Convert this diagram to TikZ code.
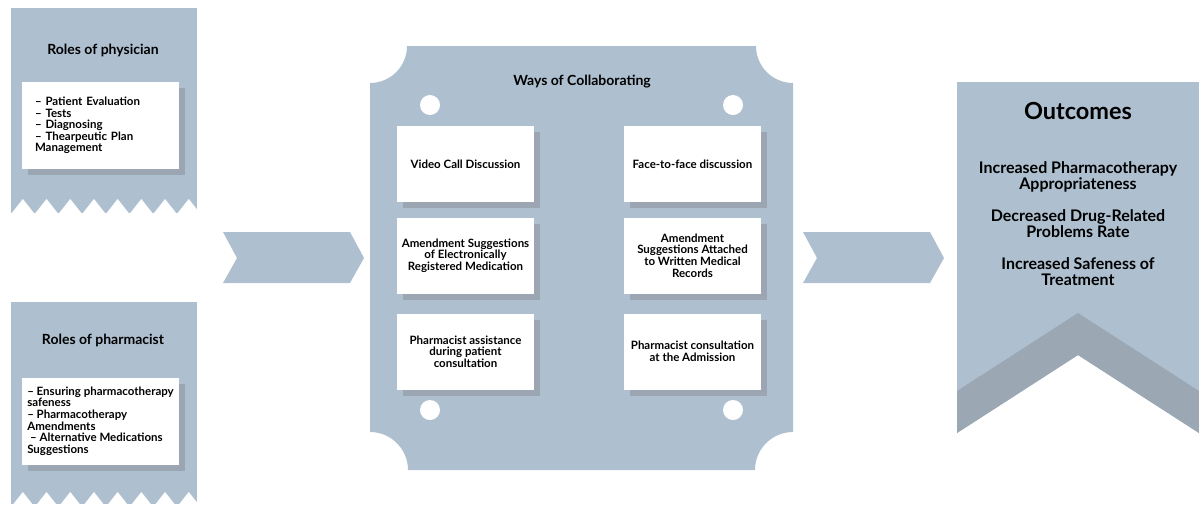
\documentclass[tikz,border=0pt]{standalone}
\usepackage{fontspec}
\setmainfont{Lato}
\usetikzlibrary{shadows}

\definecolor{panel}{RGB}{174,191,207}
\definecolor{band}{RGB}{155,167,179}
\definecolor{shade}{RGB}{156,166,178}

\tikzstyle{title} = [font=\bfseries\fontsize{14}{16}\selectfont, text centered]
\tikzstyle{card} = [fill=white, inner sep=0pt, font=\bfseries\fontsize{11.5}{11.6}\selectfont,
    drop shadow={shadow xshift=6pt, shadow yshift=-6pt, fill=shade, opacity=1}]
\tikzstyle{rolecard} = [card, minimum width=157pt, minimum height=87pt, align=left]
\tikzstyle{waycard} = [card, minimum width=137pt, minimum height=76pt, align=center]
\tikzstyle{hole} = [circle, fill=white, minimum width=20pt, inner sep=0pt]
\tikzstyle{outcome} = [font=\bfseries\fontsize{16}{16}\selectfont, align=center]

\begin{document}
\begin{tikzpicture}[x=1pt, y=-1pt]
\useasboundingbox (0,0) rectangle (1199,504);

%begin physician
\begin{scope}
    \clip (11,0) rectangle (197,213);
    \fill[panel] (11,8) rectangle (197,213);
    \foreach \k in {0,...,8}
        \fill[white] (11+23.7*\k,214) -- (22.85+23.7*\k,199) -- (34.7+23.7*\k,214) -- cycle;
\end{scope}
\node[title] (phys) at (103,50) {Roles of physician};
\node[rolecard, text width=131pt] (physbox) at (100.5,125.5)
    {– Patient Evaluation\\– Tests\\– Diagnosing\\– Thearpeutic Plan\\Management};
%end physician

%begin pharmacist
\begin{scope}
    \clip (11,0) rectangle (197,504);
    \fill[panel] (11,302) rectangle (197,504);
    \foreach \k in {0,...,8}
        \fill[white] (11+23.7*\k,507) -- (22.85+23.7*\k,492) -- (34.7+23.7*\k,507) -- cycle;
\end{scope}
\node[title] (pharm) at (103,340) {Roles of pharmacist};
\node[rolecard] (pharmbox) at (100.5,421)
    {– Ensuring pharmacotherapy\\safeness\\– Pharmacotherapy\\Amendments\\\ – Alternative Medications\\Suggestions};
%end pharmacist

%arrows between the panels
\fill[panel] (223,232) -- (350,232) -- (364,258) -- (350,283) -- (223,283) -- (237,258) -- cycle;
\fill[panel] (803,232) -- (930,232) -- (944,258) -- (930,283) -- (803,283) -- (817,258) -- cycle;

%begin ways
\fill[panel] (407,46) -- (756,46) arc (180:90:37) -- (793,432) arc (270:180:38)
    -- (408,470) arc (0:-90:38) -- (370,83) arc (90:0:37) -- cycle;
\node[title] (ways) at (582,82) {Ways of Collaborating};
\node[hole] (h1) at (430,105) {};
\node[hole] (h2) at (733,105) {};
\node[hole] (h3) at (430,410) {};
\node[hole] (h4) at (733,410) {};
\node[waycard] (video) at (465.5,164) {Video Call Discussion};
\node[waycard] (face) at (692.5,164) {Face-to-face discussion};
\node[waycard] (amendreg) at (465.5,255.5)
    {Amendment Suggestions\\of Electronically\\Registered Medication};
\node[waycard] (amendrec) at (692.5,255.5)
    {Amendment\\Suggestions Attached\\to Written Medical\\Records};
\node[waycard] (assist) at (465.5,351.5)
    {Pharmacist assistance\\during patient\\consultation};
\node[waycard] (consult) at (692.5,351.5)
    {Pharmacist consultation\\at the Admission};
%end ways

%begin outcomes
\fill[panel] (957,82) -- (1199,82) -- (1199,433) -- (1078,355) -- (957,433) -- cycle;
\fill[band] (957,391) -- (1078,313) -- (1199,391) -- (1199,433) -- (1078,355) -- (957,433) -- cycle;
\node[font=\bfseries\fontsize{23.5}{26}\selectfont] (outc) at (1078,111) {Outcomes};
\node[outcome] (out1) at (1078,177) {Increased Pharmacotherapy\\Appropriateness};
\node[outcome] (out2) at (1078,224) {Decreased Drug-Related\\Problems Rate};
\node[outcome] (out3) at (1078,272) {Increased Safeness of\\Treatment};
%end outcomes
\end{tikzpicture}
\end{document}
